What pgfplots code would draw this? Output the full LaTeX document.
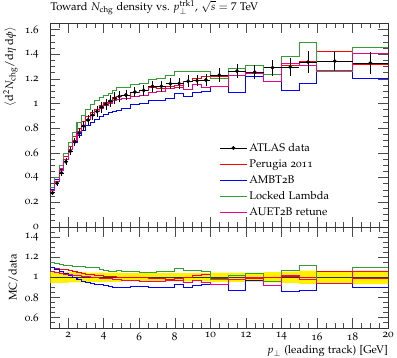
\documentclass[border=0pt]{standalone}
\usepackage[T1]{fontenc}
\usepackage[osf]{mathpazo}
\usepackage{pgfplots}
\pgfplotsset{compat=1.18}
\usepackage{pgfplotstable}
\usepgfplotslibrary{fillbetween}
\definecolor{mygreen}{rgb}{0.2,0.62,0.2}

\pgfplotstableread{
x y ex ey
1.125 0.275 0.125 0.015
1.375 0.353 0.125 0.019
1.625 0.437 0.125 0.024
1.875 0.528 0.125 0.029
2.125 0.613 0.125 0.031
2.375 0.689 0.125 0.034
2.625 0.760 0.125 0.038
2.875 0.817 0.125 0.041
3.125 0.866 0.125 0.039
3.375 0.905 0.125 0.041
3.625 0.936 0.125 0.042
3.875 0.970 0.125 0.044
4.125 0.995 0.125 0.045
4.375 1.020 0.125 0.046
4.625 1.042 0.125 0.047
4.875 1.057 0.125 0.048
5.25 1.068 0.25 0.043
5.75 1.093 0.25 0.044
6.25 1.106 0.25 0.044
6.75 1.138 0.25 0.046
7.25 1.140 0.25 0.046
7.75 1.160 0.25 0.046
8.25 1.162 0.25 0.046
8.75 1.180 0.25 0.047
9.25 1.186 0.25 0.047
9.75 1.190 0.25 0.048
10.5 1.230 0.5 0.055
11.5 1.262 0.5 0.057
12.5 1.254 0.5 0.056
13.5 1.290 0.5 0.065
14.5 1.295 0.5 0.071
15.5 1.336 0.5 0.087
17 1.344 1 0.081
19 1.328 1 0.090
}\datatab

\pgfplotstableread{
xl g r b m rg rr rb rm lo hi
1 0.3146 0.3025 0.3011 0.2915 1.144 1.10 1.095 1.06 0.945 1.055
1.25 0.4003 0.3848 0.3795 0.3707 1.134 1.09 1.075 1.05 0.945 1.055
1.5 0.4929 0.4720 0.4623 0.4545 1.128 1.08 1.058 1.04 0.945 1.055
1.75 0.5914 0.5676 0.5491 0.5438 1.12 1.075 1.04 1.03 0.945 1.055
2 0.6835 0.6528 0.6253 0.6277 1.115 1.065 1.02 1.024 0.95 1.05
2.25 0.7648 0.7290 0.6869 0.7028 1.11 1.058 0.997 1.02 0.95 1.05
2.5 0.8436 0.7980 0.7410 0.7714 1.11 1.05 0.975 1.015 0.95 1.05
2.75 0.9028 0.8497 0.7843 0.8252 1.105 1.04 0.96 1.01 0.95 1.05
3 0.9526 0.8928 0.8210 0.8703 1.10 1.031 0.948 1.005 0.955 1.045
3.25 0.9928 0.9276 0.8489 0.9050 1.097 1.025 0.938 1.0 0.955 1.045
3.5 1.0230 0.9547 0.8705 0.9313 1.093 1.02 0.93 0.995 0.955 1.045
3.75 1.0476 0.9865 0.8973 0.9603 1.08 1.017 0.925 0.99 0.955 1.045
4 1.0627 1.0069 0.9104 0.9821 1.068 1.012 0.915 0.987 0.955 1.045
4.25 1.0792 1.0271 0.9231 1.0037 1.058 1.007 0.905 0.984 0.955 1.045
4.5 1.1045 1.0472 0.9357 1.0232 1.06 1.005 0.898 0.982 0.955 1.045
4.75 1.1257 1.0570 0.9450 1.0337 1.065 1.0 0.894 0.978 0.955 1.045
5 1.1321 1.0680 0.9569 1.0381 1.06 1.0 0.896 0.972 0.96 1.04
5.5 1.1531 1.0908 0.9881 1.0580 1.055 0.998 0.904 0.968 0.96 1.04
6 1.1613 1.1027 0.9998 1.0618 1.05 0.997 0.904 0.96 0.96 1.04
6.5 1.1926 1.1266 1.0265 1.0868 1.048 0.99 0.902 0.955 0.96 1.04
7 1.2027 1.1206 1.0226 1.0967 1.055 0.983 0.897 0.962 0.96 1.04
7.5 1.2273 1.1345 1.0440 1.1194 1.058 0.978 0.9 0.965 0.96 1.04
8 1.2619 1.1295 1.0818 1.1422 1.086 0.972 0.931 0.983 0.96 1.04
8.5 1.2602 1.1765 1.0549 1.1151 1.068 0.997 0.894 0.945 0.96 1.04
9 1.2595 1.2062 1.0923 1.1504 1.062 1.017 0.921 0.97 0.96 1.04
9.5 1.2590 1.2186 1.1008 1.1281 1.058 1.024 0.925 0.948 0.96 1.04
10 1.1993 1.2177 1.1378 1.1378 0.975 0.99 0.925 0.925 0.955 1.045
11 1.2872 1.2809 1.0916 1.2305 1.02 1.015 0.865 0.975 0.955 1.045
12 1.3042 1.2415 1.2164 1.2452 1.04 0.99 0.97 0.993 0.955 1.045
13 1.2320 1.2900 1.1804 1.1804 0.955 1.0 0.915 0.915 0.95 1.05
14 1.3818 1.3080 1.1072 1.3209 1.067 1.01 0.855 1.02 0.945 1.055
15 1.4963 1.3387 1.1623 1.3066 1.12 1.002 0.87 0.978 0.935 1.065
16 1.2566 1.4220 1.2634 1.2634 0.935 1.058 0.94 0.94 0.94 1.06
18 1.4542 1.3147 1.1992 1.4077 1.095 0.99 0.903 1.06 0.932 1.068
20 1.4542 1.3147 1.1992 1.4077 1.095 0.99 0.903 1.06 0.932 1.068
}\mctab

\pgfplotsset{
  legdata/.style={legend image code/.code={\draw[black, line width=0.7pt] (0pt,0pt) -- (26.6pt,0pt); \fill[black] (13.3pt,0pt) circle (1.7pt);}},
  legline/.style={legend image code/.code={\draw[##1] (0pt,0pt) -- (26.6pt,0pt);}},
  rivet/.style={
    scale only axis, width=334.5pt, xmin=1, xmax=20,
    axis line style={black!80, line width=0.4pt},
    every tick/.style={black!70, line width=0.4pt},
    tick align=inside,
    major tick length=10pt, minor tick length=5pt,
    xtick={2,4,6,8,10,12,14,16,18,20},
    minor xtick={1.5,2,...,19.5},
    /pgf/number format/assume math mode=true,
    yticklabel style={xshift=-8pt},
  },
  mcline/.style={line width=1pt, const plot mark left},
}

\begin{document}
\begin{tikzpicture}[font=\fontsize{11}{13}\selectfont]
\begin{axis}[rivet, name=main,
  height=201.5pt, ymin=0, ymax=1.65,
  ytick={0,0.2,0.4,0.6,0.8,1,1.2,1.4,1.6},
  minor ytick={0.05,0.1,...,1.65},
  xticklabels={},
  title={Toward $N_\mathrm{chg}$ density vs.\ $p_\perp^\mathrm{trk1}$, $\sqrt{s} = 7$ TeV},
  title style={at={(rel axis cs:0,1)}, anchor=base west, yshift=7pt, inner sep=0pt},
  ylabel={$\langle \mathrm{d}^2 N_\mathrm{chg}/\mathrm{d}\eta\,\mathrm{d}\phi \rangle$},
  ylabel style={at={(ticklabel cs:1)}, anchor=south east},
  legend cell align=left,
  legend style={draw=none, fill=none, at={(axis cs:10.5,0.695)}, anchor=north west,
    inner sep=0pt, row sep=2.8pt},
]
\addlegendimage{legdata}
\addlegendentry{ATLAS data}
\addlegendimage{red, line width=1pt, legline}
\addlegendentry{Perugia 2011}
\addlegendimage{blue, line width=1pt, legline}
\addlegendentry{AMBT2B}
\addlegendimage{mygreen, line width=1pt, legline}
\addlegendentry{Locked Lambda}
\addlegendimage{magenta, line width=1pt, legline}
\addlegendentry{AUET2B retune}

\addplot[mcline, red, forget plot] table[x=xl, y=r] {\mctab};
\addplot[mcline, blue, forget plot] table[x=xl, y=b] {\mctab};
\addplot[mcline, mygreen, forget plot] table[x=xl, y=g] {\mctab};
\addplot[mcline, magenta, forget plot] table[x=xl, y=m] {\mctab};
\addplot[black, only marks, mark=*, mark size=1.7pt, forget plot,
  error bars/.cd, x dir=both, x explicit, y dir=both, y explicit,
  error bar style={black, line width=0.7pt}, error mark=none]
  table[x=x, y=y, x error=ex, y error=ey] {\datatab};
\end{axis}

\begin{axis}[rivet, name=ratio,
  at={(main.south west)}, anchor=north west,
  height=100pt, ymin=0.5, ymax=1.5,
  ytick={0.6,0.8,1,1.2,1.4},
  minor ytick={0.5,0.55,...,1.5},
  ylabel={MC/data},
  xlabel={$p_\perp$ (leading track) [GeV]},
  xlabel style={at={(rel axis cs:1,0)}, anchor=base east, yshift=-26pt, inner sep=0pt},
  xticklabel style={yshift=-1pt},
]
\addplot[name path=lo, draw=none, const plot mark left, forget plot] table[x=xl, y=lo] {\mctab};
\addplot[name path=hi, draw=none, const plot mark left, forget plot] table[x=xl, y=hi] {\mctab};
\addplot[yellow, forget plot] fill between[of=lo and hi];
\addplot[black!80, line width=0.6pt, forget plot] coordinates {(1,1) (20,1)};
\addplot[mcline, red, forget plot] table[x=xl, y=rr] {\mctab};
\addplot[mcline, blue, forget plot] table[x=xl, y=rb] {\mctab};
\addplot[mcline, mygreen, forget plot] table[x=xl, y=rg] {\mctab};
\addplot[mcline, magenta, forget plot] table[x=xl, y=rm] {\mctab};
\end{axis}
\end{tikzpicture}
\end{document}
